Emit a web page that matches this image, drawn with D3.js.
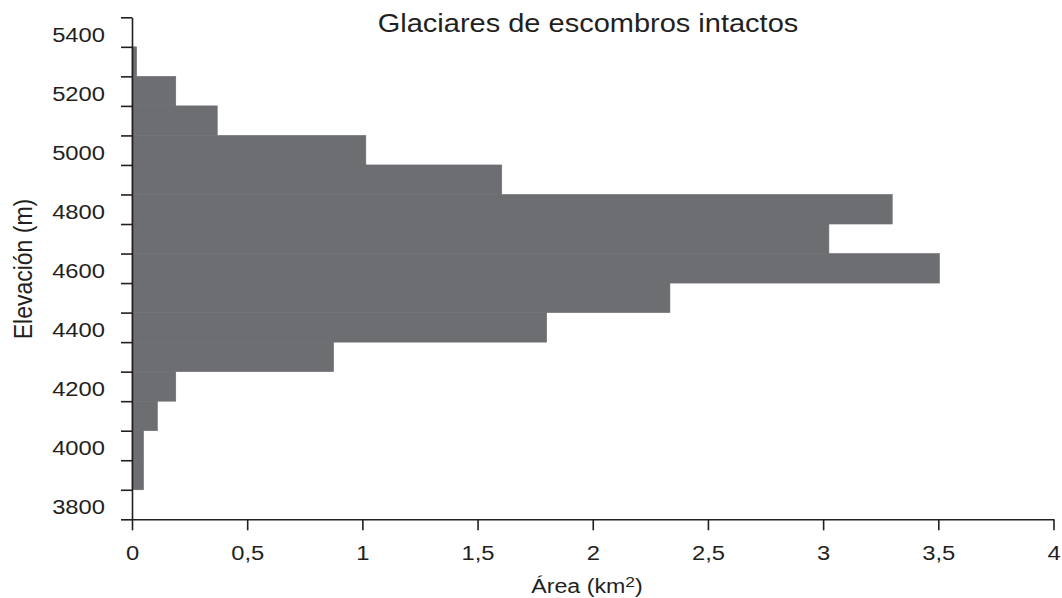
<!DOCTYPE html>
<html lang="es">
<head>
<meta charset="UTF-8" />
<title>Glaciares de escombros intactos</title>
<style>
  body { margin: 0; background: #fff; }
  svg { display: block; font-family: "Liberation Sans", Arial, sans-serif; }
  .axis path, .axis line { stroke: #231f20; stroke-width: 1.6; }
  .axis text { fill: #231f20; font-size: 20.5px; }
</style>
</head>
<body>
<script src="https://cdn.jsdelivr.net/npm/d3@7"></script>
<div id="app"></div>
<script>
// DATOS: elevación (centro de cada franja de 100 m) y área en km2
const elevaciones = [5400, 5300, 5200, 5100, 5000, 4900, 4800, 4700, 4600, 4500, 4400, 4300, 4200, 4100, 4000, 3900, 3800];
const areas = [0, 0.02, 0.19, 0.37, 1.015, 1.605, 3.30, 3.025, 3.505, 2.335, 1.80, 0.875, 0.19, 0.11, 0.05, 0.05, 0];
const etiquetasY = [5400, 5200, 5000, 4800, 4600, 4400, 4200, 4000, 3800];
const ticksX = [0, 0.5, 1, 1.5, 2, 2.5, 3, 3.5, 4];

const titulo = "Glaciares de escombros intactos";
const tituloY = "Elevación (m)";

// SVG
const w = 1062;
const h = 598;
const estirar = 1.16; // el texto del original está algo ensanchado

const svg = d3.select("#app")
  .append("svg")
  .attr("width", w)
  .attr("height", h);

// Escalas
const xScale = d3.scaleLinear()
  .domain([0, 4])
  .range([132, 1053.5]);

const yScale = d3.scaleLinear()
  .domain([3750, 5450])
  .range([519.3, 17.3]);

const datos = elevaciones.map((e, i) => ({ elev: e, area: areas[i] }));

// Barras (con trazo del mismo color para que no queden rendijas)
svg.selectAll("rect")
  .data(datos.filter(d => d.area > 0))
  .enter()
  .append("rect")
  .attr("x", xScale(0))
  .attr("y", d => yScale(d.elev + 50))
  .attr("width", d => xScale(d.area) - xScale(0))
  .attr("height", d => yScale(d.elev - 50) - yScale(d.elev + 50))
  .style("fill", "#6d6e71")
  .style("stroke", "#6d6e71")
  .style("stroke-width", 0.6);

// ensancha los textos de un eje
function ensanchar(g) {
  g.selectAll("text").each(function() {
    const t = d3.select(this);
    const x = +t.attr("x") || 0;
    t.attr("x", 0).attr("transform", `translate(${x},0) scale(${estirar},1)`);
  });
}

// Eje Y: marcas en los límites de franja
const limites = elevaciones.map(e => e + 50).concat([3750]);
svg.append("g")
  .attr("class", "axis")
  .attr("transform", `translate(${xScale(0)},0)`)
  .call(d3.axisLeft(yScale).tickValues(limites).tickFormat("").tickSize(11).tickSizeOuter(0));

// Eje Y: etiquetas en el centro de franja
const gEtiq = svg.append("g")
  .attr("class", "axis")
  .attr("transform", `translate(${xScale(0)},0)`)
  .call(d3.axisLeft(yScale).tickValues(etiquetasY).tickFormat(d3.format("d")).tickSize(0).tickPadding(27));
gEtiq.select(".domain").remove();
gEtiq.selectAll("text").attr("dy", "0.45em");
ensanchar(gEtiq);

// Eje X
const gX = svg.append("g")
  .attr("class", "axis")
  .attr("transform", `translate(0,${yScale(3750)})`)
  .call(d3.axisBottom(xScale).tickValues(ticksX)
    .tickFormat(d => String(d).replace(".", ","))
    .tickSize(11).tickSizeOuter(0).tickPadding(15));
ensanchar(gX);

// Título
svg.append("text")
  .attr("transform", `translate(588,32) scale(${estirar},1)`)
  .attr("text-anchor", "middle")
  .style("font-size", "25px")
  .style("fill", "#231f20")
  .text(titulo);

// Título eje Y
svg.append("text")
  .attr("transform", `translate(31.5,269) scale(${estirar},1) rotate(-90)`)
  .attr("text-anchor", "middle")
  .style("font-size", "23px")
  .style("fill", "#231f20")
  .text(tituloY);

// Título eje X con superíndice
const tx = svg.append("text")
  .attr("transform", `translate(587,593) scale(${estirar},1)`)
  .attr("text-anchor", "middle")
  .style("font-size", "20px")
  .style("fill", "#231f20");
tx.append("tspan").text("Área (km");
tx.append("tspan").attr("dy", "-6").style("font-size", "15px").text("2");
tx.append("tspan").attr("dy", "6").text(")");
</script>
</body>
</html>
